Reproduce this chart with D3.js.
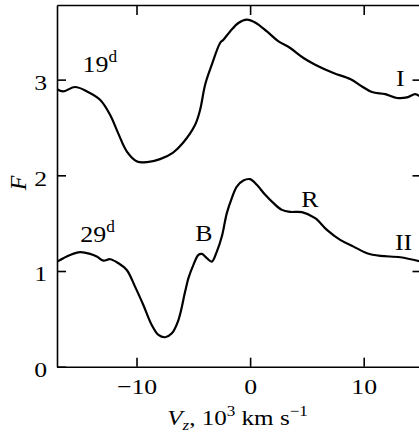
<!DOCTYPE html>
<html>
<head>
<meta charset="utf-8">
<script src="https://cdn.jsdelivr.net/npm/d3@7"></script>
<style>
  html, body { margin: 0; padding: 0; background: #fff; }
  svg { display: block; }
  text { font-family: "Liberation Serif", "Times New Roman", serif; fill: #000; }
</style>
</head>
<body>
<div id="chart"></div>
<script>
// ---- data ----
const xTicks = [-10, 0, 10];
const yTicks = [0, 1, 2, 3];

// Spectrum I (day 19)
const vI = [-17, -16.47, -15.41, -14.36, -13.21, -12.33, -11.63, -10.83, -9.95, -9.07, -7.93, -6.78, -5.90, -4.84, -4.40, -3.96, -3.37, -2.64, -2.35, -1.76, -1.03, -0.29, 0.44, 1.48, 2.50, 3.53, 4.70, 5.73, 7.34, 8.81, 9.85, 10.73, 11.90, 12.93, 13.81, 14.54, 15.0];
const fI = [2.90, 2.877, 2.923, 2.877, 2.79, 2.633, 2.444, 2.245, 2.144, 2.138, 2.169, 2.238, 2.34, 2.528, 2.685, 2.947, 3.156, 3.383, 3.417, 3.504, 3.592, 3.627, 3.598, 3.504, 3.40, 3.331, 3.226, 3.156, 3.069, 3.006, 2.929, 2.870, 2.849, 2.808, 2.814, 2.849, 2.82];

// Spectrum II (day 29)
const vII = [-17, -16.44, -15.85, -14.97, -14.09, -13.50, -12.92, -12.33, -11.60, -10.86, -10.13, -9.40, -8.66, -8.07, -7.48, -6.89, -6.31, -5.72, -5.43, -4.99, -4.55, -4.25, -3.81, -3.37, -2.93, -2.49, -2.05, -1.61, -1.17, -0.59, 0.00, 0.59, 1.33, 2.06, 2.80, 3.53, 4.56, 5.73, 6.76, 7.93, 9.11, 10.29, 11.46, 13.22, 15.0];
const fII = [1.098, 1.134, 1.168, 1.197, 1.179, 1.151, 1.109, 1.123, 1.082, 1.011, 0.837, 0.645, 0.436, 0.332, 0.308, 0.349, 0.488, 0.785, 0.925, 1.064, 1.168, 1.179, 1.134, 1.098, 1.203, 1.36, 1.605, 1.762, 1.883, 1.946, 1.960, 1.901, 1.796, 1.709, 1.639, 1.618, 1.615, 1.552, 1.43, 1.325, 1.255, 1.186, 1.158, 1.144, 1.10];

// annotations
const labels = [
  { text: "19", sup: "d", v: -14.75, f: 3.08 },
  { text: "29", sup: "d", v: -14.95, f: 1.30 },
  { text: "B",  sup: "",  v: -4.84,  f: 1.31 },
  { text: "R",  sup: "",  v: 4.5,    f: 1.67 },
  { text: "I",  sup: "",  v: 12.85,  f: 2.93 },
  { text: "II", sup: "",  v: 12.75,  f: 1.22 }
];

// ---- layout ----
const W = 419, H = 437;
const mL = 57, mR = 420.5, mT = 5, mB = 366.7;

const x = d3.scaleLinear().domain([-17, 15]).range([mL, mR]);
const y = d3.scaleLinear().domain([0, 3.78]).range([mB, mT]);

const svg = d3.select("#chart").append("svg").attr("width", W).attr("height", H);

const FS = 22, SX = 1.17;

// axes
const gL = svg.append("g").attr("transform", `translate(${mL},0)`)
  .call(d3.axisLeft(y).tickValues(yTicks).tickSize(-9).tickSizeOuter(0).tickPadding(10).tickFormat(d3.format("d")));
const gB = svg.append("g").attr("transform", `translate(0,${mB})`)
  .call(d3.axisBottom(x).tickValues(xTicks).tickSize(-9).tickSizeOuter(0).tickPadding(12));
const gT = svg.append("g").attr("transform", `translate(0,${mT})`)
  .call(d3.axisTop(x).tickValues(xTicks).tickSize(-10).tickSizeOuter(0).tickFormat(""));
const gR = svg.append("g").attr("transform", `translate(${mR},0)`)
  .call(d3.axisRight(y).tickValues([1, 2, 3]).tickSize(-8).tickSizeOuter(0).tickFormat(""));

[gL, gB, gT, gR].forEach(g => {
  g.selectAll("path.domain").attr("stroke", "#000").attr("stroke-width", 1.6);
  g.selectAll(".tick line").attr("stroke", "#000").attr("stroke-width", 1.6);
  g.selectAll(".tick text").style("font-family", "'Liberation Serif', serif").style("font-size", FS + "px").attr("fill", "#000");
});
// slightly wide serif lettering as in the original
gL.selectAll(".tick text").attr("x", -10 / SX).attr("dy", "0.45em").attr("transform", `scale(${SX},1)`);
gB.selectAll(".tick text").attr("transform", `scale(${SX},1)`);

// curves
const line = d3.line().x(d => x(d[0])).y(d => y(d[1])).curve(d3.curveCatmullRom.alpha(0.5));
svg.append("clipPath").attr("id", "clip").append("rect")
  .attr("x", mL).attr("y", mT).attr("width", mR - mL).attr("height", mB - mT);
const plot = svg.append("g").attr("clip-path", "url(#clip)");
plot.append("path").datum(vI.map((v, i) => [v, fI[i]]))
  .attr("d", line).attr("fill", "none").attr("stroke", "#000").attr("stroke-width", 2.2).attr("stroke-linejoin", "round");
plot.append("path").datum(vII.map((v, i) => [v, fII[i]]))
  .attr("d", line).attr("fill", "none").attr("stroke", "#000").attr("stroke-width", 2.2).attr("stroke-linejoin", "round");

// annotations
labels.forEach(l => {
  const t = svg.append("g").attr("transform", `translate(${x(l.v)},${y(l.f)}) scale(1.08,1)`)
    .append("text").style("font-size", "24px");
  t.append("tspan").text(l.text);
  if (l.sup) t.append("tspan").attr("dy", -10).style("font-size", "16px").text(l.sup);
});

// axis titles
svg.append("text")
  .attr("transform", `translate(26,183) rotate(-90)`)
  .attr("text-anchor", "middle")
  .style("font-size", "24px").style("font-style", "italic").text("F");

const xt = svg.append("g").attr("transform", `translate(237.5,425) scale(1.14,1)`)
  .append("text").attr("text-anchor", "middle").style("font-size", FS + "px");
xt.append("tspan").style("font-style", "italic").text("V");
xt.append("tspan").style("font-style", "italic").style("font-size", "15px").attr("dy", 5).text("z");
xt.append("tspan").attr("dy", -5).text(", 10");
xt.append("tspan").style("font-size", "15px").attr("dy", -9).text("3");
xt.append("tspan").attr("dy", 9).text(" km s");
xt.append("tspan").style("font-size", "15px").attr("dy", -9).text("\u22121");
</script>
</body>
</html>
